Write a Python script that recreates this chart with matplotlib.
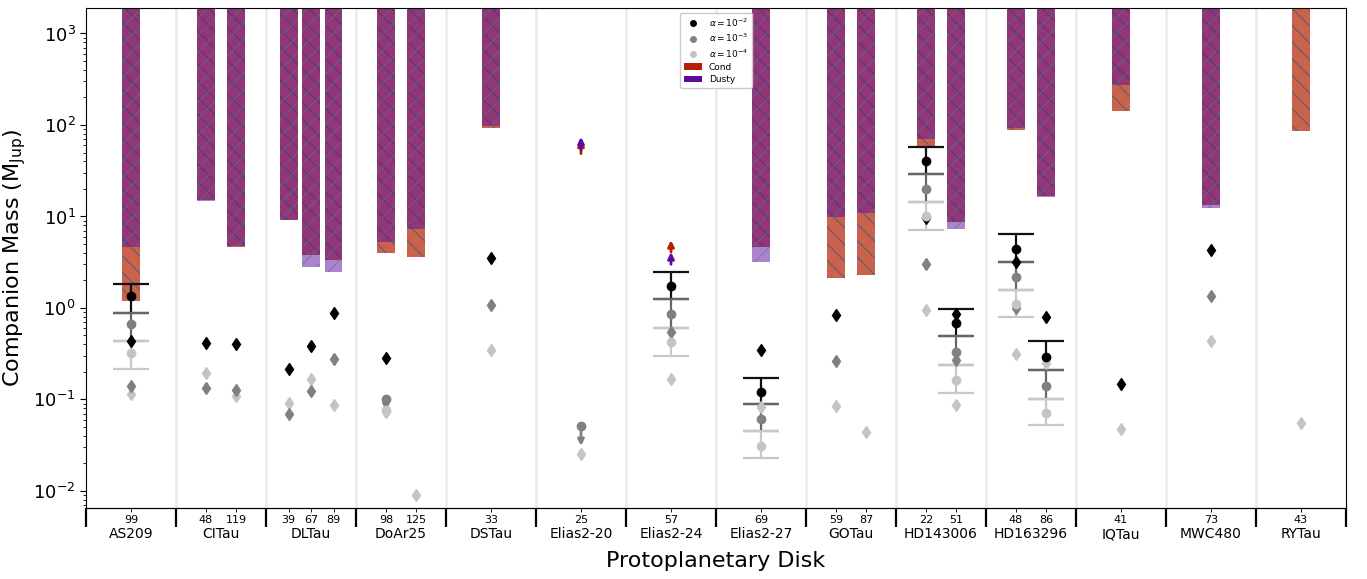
import numpy as np
import matplotlib
matplotlib.use("Agg")
import matplotlib.pyplot as plt
from matplotlib.patches import Patch
from matplotlib.lines import Line2D

nan = np.nan

disks = ["AS209", "CITau", "DLTau", "DoAr25", "DSTau", "Elias2-20", "Elias2-24",
         "Elias2-27", "GOTau", "HD143006", "HD163296", "IQTau", "MWC480", "RYTau"]
gaps = [[99], [48, 119], [39, 67, 89], [98, 125], [33], [25], [57], [69],
        [59, 87], [22, 51], [48, 86], [41], [73], [43]]

# lower edge of the excluded mass region (bars extend upward)
cond_min = [1.2, 15, 4.6, 9.1, 3.77, 3.3, 4.0, 3.6, 92, nan, nan, 4.6,
            2.15, 2.3, 58, 8.7, 89, 16.8, 141, 13.4, 85]
dusty_min = [4.6, 14.7, 4.8, 9.1, 2.78, 2.5, 5.2, 7.3, 97, nan, nan, 3.2,
             9.9, 10.9, 70, 7.3, 92, 16.2, 272, 12.5, nan]

# lower limits (arrows)
cond_lim = [nan]*9 + [48.6, 4.07] + [nan]*10
cond_lim_top = [nan]*9 + [69, 5.5] + [nan]*10
dusty_lim = [nan]*9 + [53, 3.0] + [nan]*10
dusty_lim_top = [nan]*9 + [74, 4.07] + [nan]*10

# diamonds for three alpha values
dia_a2 = [0.43, 0.417, 0.40, 0.217, 0.387, 0.87, 0.285, nan, 3.5, nan, nan, 0.35,
          0.83, nan, 9.6, 0.85, 3.16, 0.79, 0.149, 4.3, nan]
dia_a3 = [0.141, 0.133, 0.127, 0.069, 0.124, 0.28, nan, nan, 1.09, nan, 0.54, nan,
          0.266, nan, 3.0, 0.27, 1.0, nan, nan, 1.34, nan]
dia_a4 = [0.115, 0.196, 0.109, 0.092, 0.168, 0.087, 0.072, 0.0091, 0.35, 0.025, 0.168, 0.083,
          0.085, 0.044, 0.96, 0.087, 0.316, 0.25, 0.047, 0.43, 0.055]

# circles with error bars (value, low, high) for three alpha values
circ_a2 = [1.34, nan, nan, nan, nan, nan, nan, nan, nan, nan, 1.72, 0.121,
           nan, nan, 40.8, 0.68, 4.4, 0.294, nan, nan, nan]
circ_a2_lo = [0.89, nan, nan, nan, nan, nan, nan, nan, nan, nan, 1.24, 0.089,
              nan, nan, 29.3, 0.49, 3.16, 0.21, nan, nan, nan]
circ_a2_hi = [1.81, nan, nan, nan, nan, nan, nan, nan, nan, nan, 2.45, 0.172,
              nan, nan, 58, 0.97, 6.43, 0.43, nan, nan, nan]
circ_a3 = [0.66, nan, nan, nan, nan, nan, nan, nan, nan, nan, 0.85, 0.061,
           nan, nan, 20, 0.33, 2.16, 0.141, nan, nan, nan]
circ_a3_lo = [0.44, nan, nan, nan, nan, nan, nan, nan, nan, nan, 0.61, 0.045,
              nan, nan, 14.4, 0.24, 1.56, 0.10, nan, nan, nan]
circ_a3_hi = [0.89, nan, nan, nan, nan, nan, nan, nan, nan, nan, 1.24, 0.089,
              nan, nan, 29.3, 0.49, 3.16, 0.21, nan, nan, nan]
circ_a4 = [0.32, nan, nan, nan, nan, nan, nan, nan, nan, nan, 0.42, 0.031,
           nan, nan, 10, 0.164, 1.1, 0.071, nan, nan, nan]
circ_a4_lo = [0.217, nan, nan, nan, nan, nan, nan, nan, nan, nan, 0.30, 0.023,
              nan, nan, 7.1, 0.118, 0.79, 0.052, nan, nan, nan]
circ_a4_hi = [0.44, nan, nan, nan, nan, nan, nan, nan, nan, nan, 0.61, 0.045,
              nan, nan, 14.4, 0.24, 1.56, 0.10, nan, nan, nan]

# upper-limit circles (down arrows)
ul_a3 = [nan]*6 + [0.10, nan, nan, 0.051] + [nan]*11
ul_a3_lo = [nan]*6 + [0.075, nan, nan, 0.031] + [nan]*11
ul_a4 = [nan]*6 + [0.077] + [nan]*14
ul_a4_lo = [nan]*6 + [0.06] + [nan]*14

cond_color = "#B52100"
dusty_color = "#5B0A9E"
grey_levels = ["#000000", "#808080", "#c4c4c4"]
err_levels = ["#111111", "#666666", "#c8c8c8"]

# gap positions
gap_x, gap_lab = [], []
for i, g in enumerate(gaps):
    n = len(g)
    for k, lab in enumerate(g):
        gap_x.append(i + (k + 1) / (n + 1))
        gap_lab.append(str(lab))
gap_x = np.array(gap_x)

fig = plt.figure(figsize=(13.67, 5.79), dpi=100)
ax = fig.add_axes([86 / 1367, 71 / 579, 1260 / 1367, 500 / 579])
ax.set_yscale("log")
ylo, yhi = 6.5e-3, 1900
top = 1e4

for b in range(1, len(disks)):
    ax.axvline(b, color="#ebebeb", lw=1.8, zorder=0)

cm = np.array(cond_min, float)
dm = np.array(dusty_min, float)
m = ~np.isnan(cm)
ax.bar(gap_x[m], top - cm[m], bottom=cm[m], width=0.2, color=cond_color, alpha=0.7,
       hatch="\\\\", edgecolor="#4a5a78", linewidth=0, zorder=2)
m = ~np.isnan(dm)
ax.bar(gap_x[m], top - dm[m], bottom=dm[m], width=0.2, color=dusty_color, alpha=0.5,
       hatch="//", edgecolor="#4a7a90", linewidth=0, zorder=2)

# lower-limit arrows
for vals, tops, col in [(cond_lim, cond_lim_top, cond_color), (dusty_lim, dusty_lim_top, dusty_color)]:
    v = np.array(vals, float); t = np.array(tops, float)
    for xi, vi, ti in zip(gap_x, v, t):
        if np.isnan(vi):
            continue
        ax.annotate("", xy=(xi, ti), xytext=(xi, vi),
                    arrowprops=dict(arrowstyle="-|>", color=col, lw=2, mutation_scale=9,
                                    shrinkA=0, shrinkB=0), zorder=4)

# circles with errorbars
for vals, lo, hi, c, ec in [(circ_a2, circ_a2_lo, circ_a2_hi, grey_levels[0], err_levels[0]),
                            (circ_a3, circ_a3_lo, circ_a3_hi, grey_levels[1], err_levels[1]),
                            (circ_a4, circ_a4_lo, circ_a4_hi, grey_levels[2], err_levels[2])]:
    v = np.array(vals, float); l = np.array(lo, float); h = np.array(hi, float)
    mm = ~np.isnan(v)
    ax.errorbar(gap_x[mm], v[mm], yerr=[v[mm] - l[mm], h[mm] - v[mm]], fmt="o", ms=6,
                color=c, ecolor=ec, elinewidth=1.6, capsize=13, capthick=1.6, zorder=3)

# upper limit circles
for vals, lo, c in [(ul_a3, ul_a3_lo, grey_levels[1]), (ul_a4, ul_a4_lo, grey_levels[2])]:
    v = np.array(vals, float); l = np.array(lo, float)
    for xi, vi, li in zip(gap_x, v, l):
        if np.isnan(vi):
            continue
        ax.plot([xi], [vi], "o", ms=6, color=c, zorder=3)
        ax.annotate("", xy=(xi, li), xytext=(xi, vi),
                    arrowprops=dict(arrowstyle="-|>", color=c, lw=2, mutation_scale=9,
                                    shrinkA=0, shrinkB=0), zorder=3)

# diamonds
for vals, c in [(dia_a4, grey_levels[2]), (dia_a3, grey_levels[1]), (dia_a2, grey_levels[0])]:
    v = np.array(vals, float)
    mm = ~np.isnan(v)
    ax.plot(gap_x[mm], v[mm], "d", ms=6.5, color=c, ls="none", zorder=3)

ax.set_xlim(0, len(disks))
ax.set_ylim(ylo, yhi)

ax.xaxis.remove_overlapping_locs = False
ax.set_xticks(np.arange(len(disks)) + 0.5)
ax.set_xticklabels(disks)
ax.set_xticks(gap_x, minor=True)
ax.set_xticklabels(gap_lab, minor=True)
ax.tick_params(axis="x", which="major", length=0, pad=14, labelsize=10)
ax.tick_params(axis="x", which="minor", length=3, pad=2, labelsize=8)
ax.tick_params(axis="y", which="major", labelsize=13, length=4)

sec = ax.secondary_xaxis("bottom")
sec.set_xticks(np.arange(len(disks) + 1))
sec.set_xticklabels([])
sec.tick_params(length=14, width=1.6, color="black")

ax.set_ylabel(r"Companion Mass (M$_{\rm Jup}$)", fontsize=16)
ax.set_xlabel("Protoplanetary Disk", fontsize=16, labelpad=7)

handles = [Line2D([], [], marker="o", ls="none", color=grey_levels[0], ms=4, label=r"$\alpha=10^{-2}$"),
           Line2D([], [], marker="o", ls="none", color=grey_levels[1], ms=4, label=r"$\alpha=10^{-3}$"),
           Line2D([], [], marker="o", ls="none", color=grey_levels[2], ms=4, label=r"$\alpha=10^{-4}$"),
           Patch(facecolor=cond_color, label="Cond"),
           Patch(facecolor=dusty_color, label="Dusty")]
ax.legend(handles=handles, loc="upper center", fontsize=6.5, framealpha=1, labelspacing=0.35)

fig.savefig("out.png", dpi=100)
